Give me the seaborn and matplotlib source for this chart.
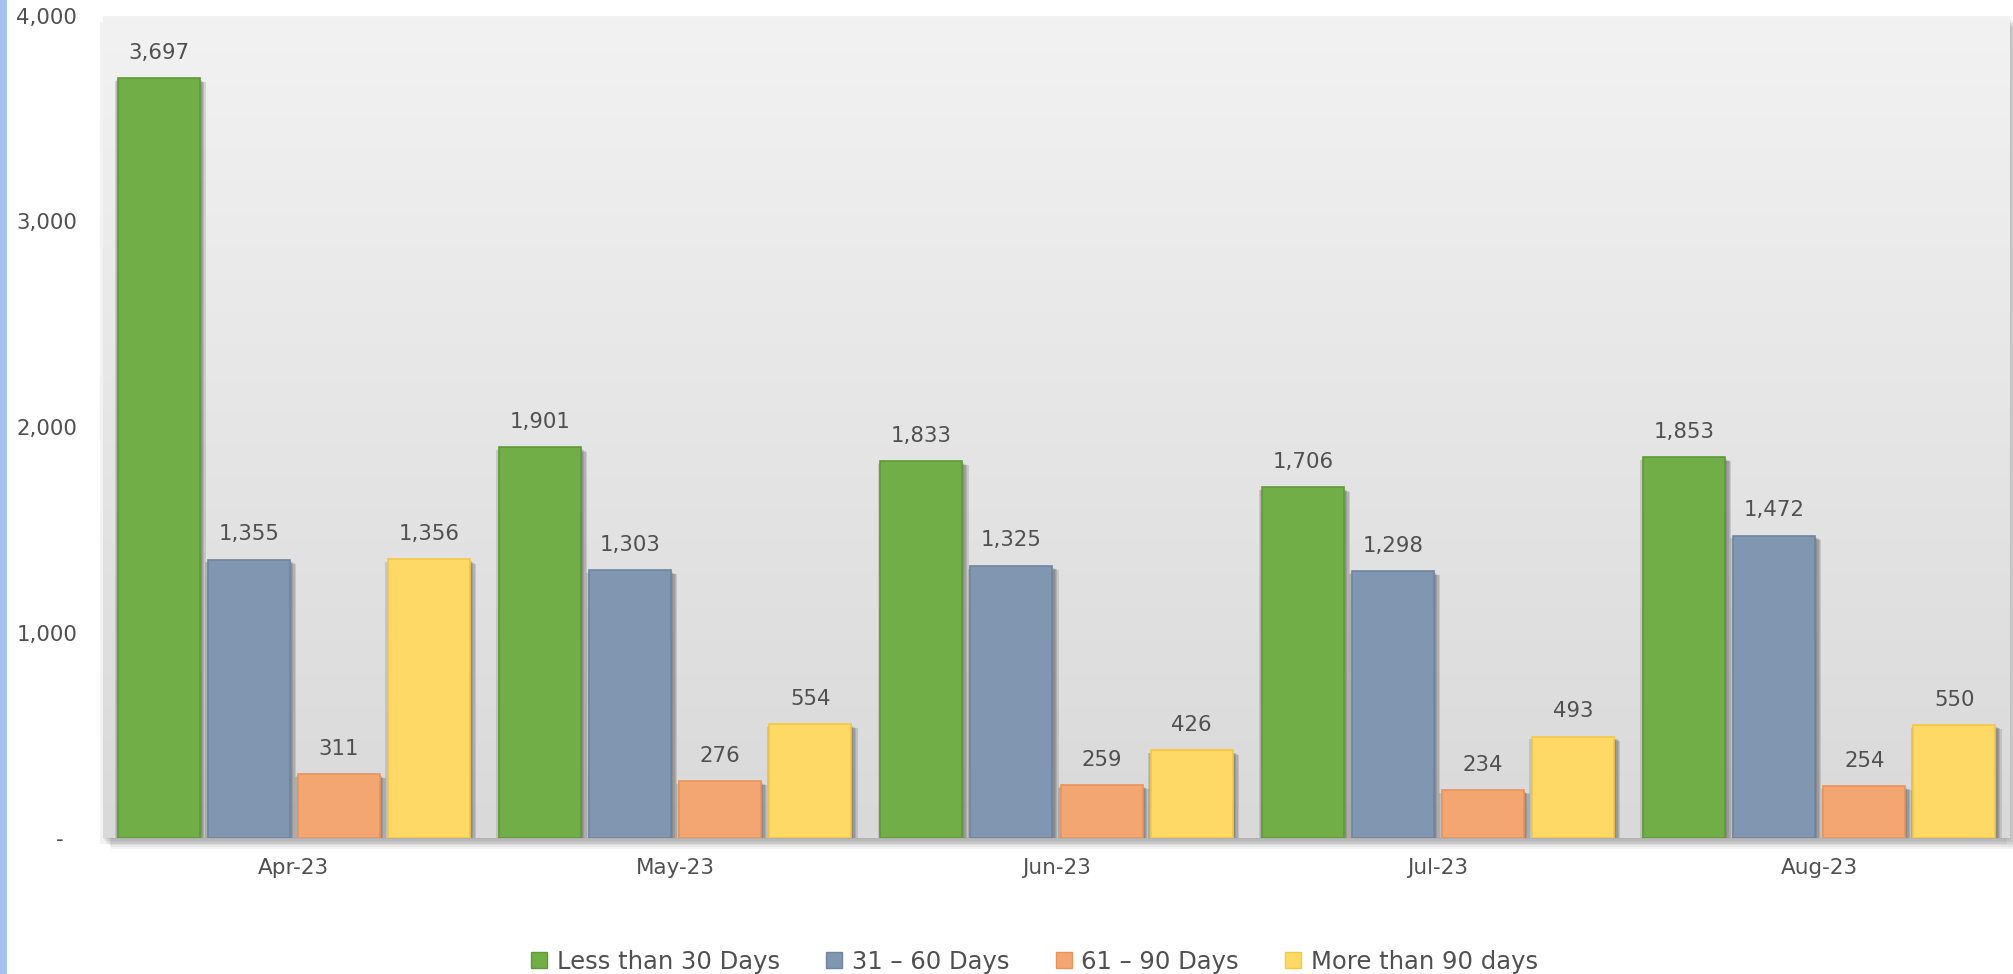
import numpy as np
import pandas as pd
import matplotlib
matplotlib.use("Agg")
import matplotlib.pyplot as plt
import matplotlib.patheffects as pe
from matplotlib.patches import Rectangle
import seaborn as sns

# ---------------- data ----------------
months = ["Apr-23", "May-23", "Jun-23", "Jul-23", "Aug-23"]
categories = ["Less than 30 Days", "31 \u2013 60 Days", "61 \u2013 90 Days", "More than 90 days"]
less_than_30 = [3697, 1901, 1833, 1706, 1853]
days_31_60 = [1355, 1303, 1325, 1298, 1472]
days_61_90 = [311, 276, 259, 234, 254]
more_than_90 = [1356, 554, 426, 493, 550]
y_tick_values = [0, 1000, 2000, 3000, 4000]
y_tick_labels = ["-  ", "1,000", "2,000", "3,000", "4,000"]

colors = ["#72AE48", "#8197B1", "#F4A672", "#FFD966"]
edge_colors = ["#5E9A37", "#6F84A0", "#E8935C", "#F5C842"]

series = [less_than_30, days_31_60, days_61_90, more_than_90]
rows = []
for cat, vals in zip(categories, series):
    for m, v in zip(months, vals):
        rows.append({"month": m, "category": cat, "value": v})
df = pd.DataFrame(rows)

# ---------------- figure ----------------
sns.set_theme(style="white")
plt.rcParams["font.family"] = ["DejaVu Sans"]
text_color = "#505050"

fig = plt.figure(figsize=(20.13, 9.74), dpi=100)
fig.patch.set_facecolor("white")
ax = fig.add_axes([0.0512, 0.1396, 0.9473, 0.8440])


def soft_shadow(offsets, color, alpha):
    effs = [pe.SimplePatchShadow(offset=o, shadow_rgbFace=color, alpha=alpha) for o in offsets]
    return effs + [pe.Normal()]


# plot-area soft shadow
ax.patch.set_facecolor("#d9d9d9")
ax.patch.set_path_effects(soft_shadow(
    [(6, -8), (5, -6.5), (4, -5), (3, -4), (2, -3), (1, -2), (-2, -4), (0, -1)],
    "#707070", 0.09))

# gradient background
grad = np.linspace(0, 1, 256).reshape(-1, 1)
top_c = np.array([0xf2, 0xf2, 0xf2]) / 255
bot_c = np.array([0xd9, 0xd9, 0xd9]) / 255
img = top_c[None, None, :] * (1 - grad[:, :, None]) + bot_c[None, None, :] * grad[:, :, None]
ax.imshow(img, extent=(0, 1, 0, 1), transform=ax.transAxes, aspect="auto", zorder=0)

sns.barplot(data=df, x="month", y="value", hue="category", hue_order=categories,
            order=months, palette=colors, saturation=1, width=0.945, gap=0.09,
            ax=ax, legend=False, zorder=3)

bar_shadow_offsets = [(4.5, -3), (3.5, -2.5), (2.5, -2), (1.5, -1.5),
                      (-1, -1.5), (-2, -2), (0.5, -1)]
for cont, ec in zip(ax.containers, edge_colors):
    for bar in cont:
        bar.set_edgecolor(ec)
        bar.set_linewidth(1.2)
        bar.set_path_effects(soft_shadow(bar_shadow_offsets, "#404040", 0.16))
    ax.bar_label(cont, labels=[f"{v:,.0f}" for v in cont.datavalues], padding=11,
                 fontsize=15.3, color=text_color)

ax.set_xlim(-0.5, len(months) - 0.5)
ax.set_ylim(0, 4000)
ax.set_yticks(y_tick_values)
ax.set_yticklabels(y_tick_labels)
ax.set_xlabel("")
ax.set_ylabel("")
ax.tick_params(axis="x", length=0, pad=14.5, labelsize=15.5, labelcolor=text_color)
ax.tick_params(axis="y", length=0, pad=18.5, labelsize=15.3, labelcolor=text_color)
for s in ax.spines.values():
    s.set_visible(False)
ax.grid(False)

# legend
handles = [Rectangle((0, 0), 1, 1, facecolor=c, edgecolor=e, linewidth=1.0)
           for c, e in zip(colors, edge_colors)]
leg = fig.legend(handles, categories, loc="center", bbox_to_anchor=(0.514, 0.0125),
                 ncol=4, frameon=False, fontsize=17.5, handlelength=0.66,
                 handleheight=0.66, handletextpad=0.4, columnspacing=1.9,
                 borderpad=0.2, labelcolor=text_color)

# left blue border stripe
fig.add_artist(Rectangle((0, 0), 7 / 2013, 1, transform=fig.transFigure,
                         facecolor="#A4C2EE", edgecolor="none"))

fig.savefig("out.png", dpi=100, facecolor="white")
